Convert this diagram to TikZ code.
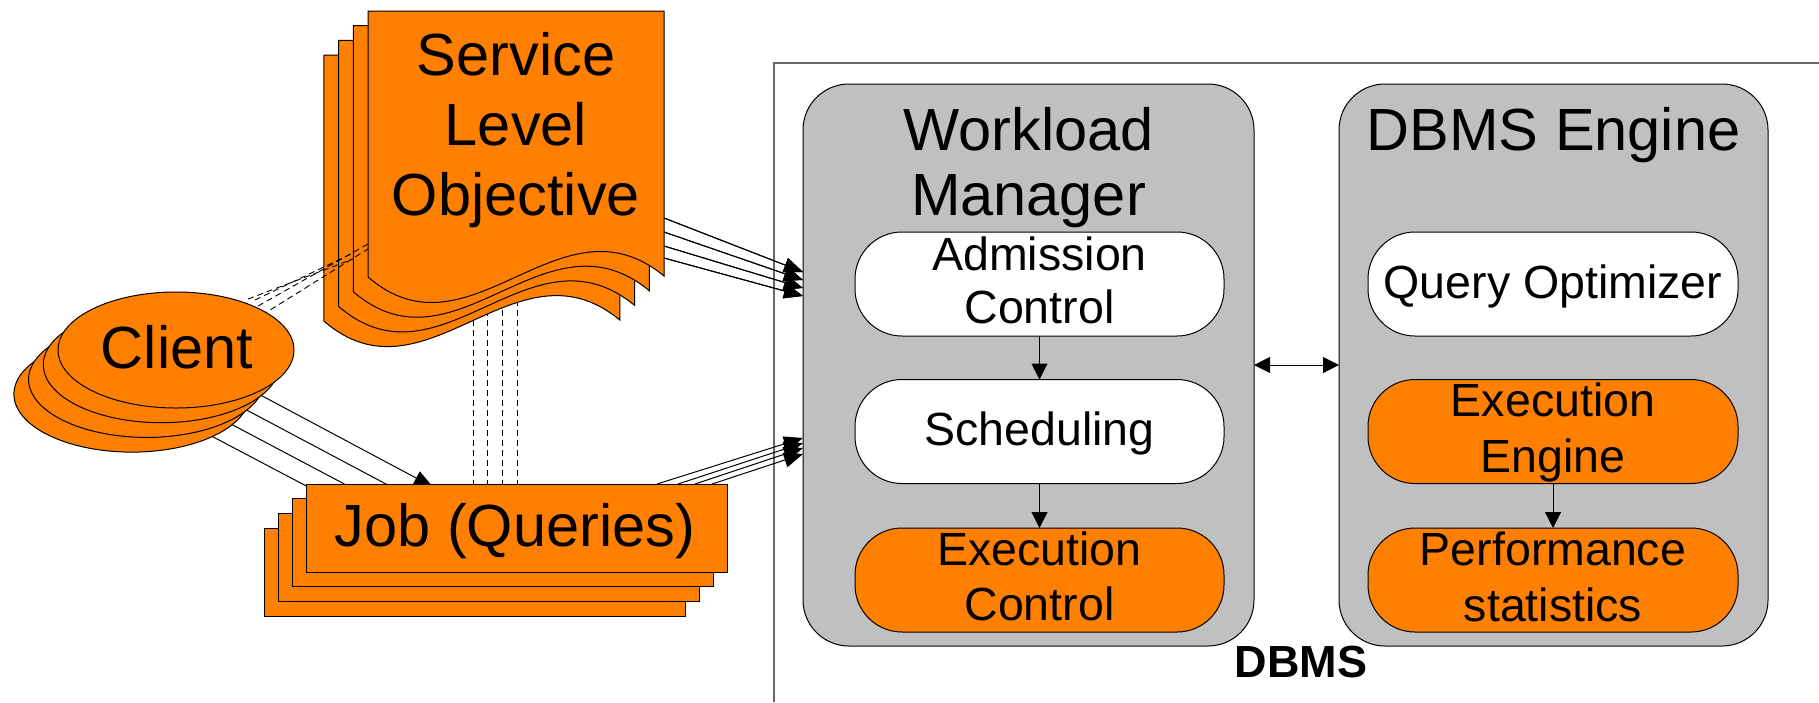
\documentclass[tikz,border=0pt]{standalone}
\usepackage{fontspec}
\setmainfont{Liberation Sans}
\usetikzlibrary{arrows.meta,shapes.geometric}
\definecolor{orng}{RGB}{255,128,0}
\definecolor{gbox}{RGB}{192,192,192}
\definecolor{frm}{RGB}{105,105,105}
\newcommand\mlines[2]{\vtop{\baselineskip=#1\lineskiplimit=-200pt\halign{\hfil##\hfil\cr#2\crcr}}}
\newcommand\bigfont{\fontsize{59.5}{70}\selectfont}
\newcommand\medfont{\fontsize{46.5}{54}\selectfont}
\begin{document}
\begin{tikzpicture}[x=1pt,y=-1pt,
  lbl/.style={inner sep=0pt, outer sep=0pt, anchor=base},
  ln/.style={line width=1pt, draw=black},
  dsh/.style={line width=0.9pt, draw=black, dash pattern=on 6pt off 4pt},
  tip/.style={-{Triangle[length=19pt,width=15pt]}},
  stip/.style={-{Triangle[length=16pt,width=16pt]}},
  dtip/.style={{Triangle[length=16pt,width=16pt]}-{Triangle[length=16pt,width=16pt]}},
  docst/.style={draw=black, fill=orng, line width=1pt},
  orshape/.style={draw=black, fill=orng, line width=1pt, inner sep=0pt, outer sep=0pt},
  gbx/.style={draw=black, fill=gbox, line width=1pt, rounded corners=46pt, inner sep=0pt, outer sep=0pt},
  inbox/.style={draw=black, line width=1pt, rounded corners=47pt, inner sep=0pt, outer sep=0pt, minimum height=104pt}]
\useasboundingbox (0,0) rectangle (1819,702);
\fill[white] (0,0) rectangle (1819,702);

% DBMS frame
\coordinate (fb) at (774,702);
\coordinate (fc) at (774,63);
\coordinate (fr) at (1819,63);
\draw[frm, line width=1.3pt] (fb) -- (fc) -- (fr);

% dashed lines from SLO to job
\foreach \x in {473,487,502,517} {
  \coordinate (vt\x) at (\x,250);
  \coordinate (vb\x) at (\x,484);
  \draw[dsh] (vt\x) -- (vb\x);
}

% SLO documents
\foreach \k in {3,2,1,0} {
  \begin{scope}[shift={({-14.7*\k},{14.7*\k})}]
    \draw[docst] (368,11) -- (664,11) -- (664,276) .. controls (560,190) and (470,365) .. (368,277) -- cycle;
  \end{scope}
}
\node[lbl] (slo) at (516,75) {\bigfont\mlines{70pt}{Service\cr Level\cr Objective}};

% dashed lines client -> SLO
\coordinate (ds0) at (262,315); \coordinate (de0) at (368,249);
\coordinate (ds1) at (255,300); \coordinate (de1) at (353,253);
\coordinate (ds2) at (248,299); \coordinate (de2) at (353,259);
\coordinate (ds3) at (258,306); \coordinate (de3) at (368,244);
\foreach \k in {0,1,2,3} { \draw[dsh] (ds\k) -- (de\k); }

% SLO -> workload manager
\coordinate (ss0) at (664,218); \coordinate (se0) at (803,272);
\coordinate (ss1) at (664,232); \coordinate (se1) at (803,280);
\coordinate (ss2) at (664,246); \coordinate (se2) at (803,288);
\coordinate (ss3) at (664,258); \coordinate (se3) at (803,296);
\foreach \k in {0,1,2,3} { \draw[ln,tip] (ss\k) -- (se\k); }

% client -> job arrows (partly hidden)
\foreach \k in {3,2,1,0} {
  \coordinate (cc\k) at ({176-14.7*\k},{350+14.7*\k});
  \coordinate (jt\k) at ({433-13.7*\k},{487+14.7*\k});
  \draw[ln,tip] (cc\k) -- (jt\k);
}

% client ellipses
\foreach \k in {3,2,1,0} {
  \node[orshape, ellipse, minimum width=236pt, minimum height=116pt] (cl\k) at ({176-14.7*\k},{350+14.7*\k}) {};
}
\node[lbl] (clt) at (177,368) {\bigfont Client};

% job rectangles
\foreach \k in {3,2,1,0} {
  \node[orshape, rectangle, minimum width=421pt, minimum height=88pt] (job\k) at ({516.5-13.7*\k},{528+14.7*\k}) {};
}
\node[lbl] (jobt) at (515,546) {\bigfont Job (Queries)};

% gray boxes
\node[gbx, minimum width=451pt, minimum height=562pt] (wm) at (1028.5,365) {};
\node[gbx, minimum width=429pt, minimum height=562pt] (de) at (1553.5,365) {};
\node[lbl] (wmt) at (1028.5,150) {\bigfont\mlines{65pt}{Workload\cr Manager}};
\node[lbl] (det) at (1553.5,150) {\bigfont DBMS Engine};

% inner boxes
\node[inbox, fill=white, minimum width=369pt] (ac) at (1039.5,284) {};
\node[inbox, fill=white, minimum width=369pt] (sc) at (1039.5,431.5) {};
\node[inbox, fill=orng, minimum width=369pt] (ec) at (1039.5,580) {};
\node[inbox, fill=white, minimum width=370pt] (qo) at (1553,284) {};
\node[inbox, fill=orng, minimum width=370pt] (ee) at (1553,431.5) {};
\node[inbox, fill=orng, minimum width=370pt] (ps) at (1553,580) {};

\node[lbl] (act) at (1039.5,270) {\medfont\mlines{53pt}{Admission\cr Control}};
\node[lbl] (sct) at (1039.5,445) {\medfont Scheduling};
\node[lbl] (ect) at (1039.5,565) {\medfont\mlines{55pt}{Execution\cr Control}};
\node[lbl] (qot) at (1553,298) {\medfont Query Optimizer};
\node[lbl] (eet) at (1553,416) {\medfont\mlines{56pt}{Execution\cr Engine}};
\node[lbl] (pst) at (1553,565) {\medfont\mlines{56pt}{Performance\cr statistics}};

\draw[ln,stip] (ac.south) -- (sc.north);
\draw[ln,stip] (sc.south) -- (ec.north);
\draw[ln,stip] (ee.south) -- (ps.north);
\draw[ln,dtip] (wm.east) -- (de.west);

% job -> workload manager
\coordinate (js0) at (657,484); \coordinate (je0) at (803,438);
\coordinate (js1) at (678,484); \coordinate (je1) at (803,443);
\coordinate (js2) at (695,484); \coordinate (je2) at (803,448);
\coordinate (js3) at (712,484); \coordinate (je3) at (803,454);
\foreach \k in {0,1,2,3} { \draw[ln,tip] (js\k) -- (je\k); }
\foreach \k in {0,1,2,3} { \draw[ln,tip] (ss\k) -- (se\k); }

\node[lbl] (dbms) at (1301,677) {\fontsize{45}{50}\selectfont\bfseries DBMS};
\end{tikzpicture}
\end{document}
